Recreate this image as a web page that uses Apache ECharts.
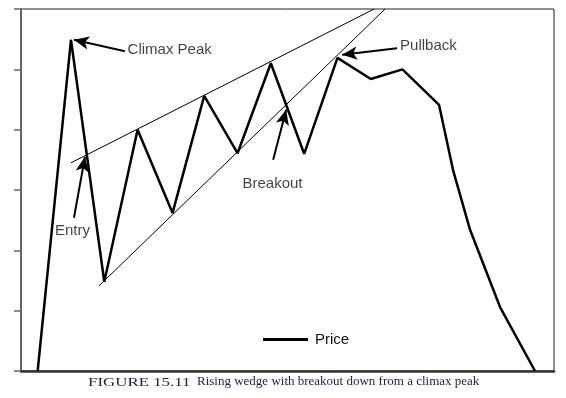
<!DOCTYPE html>
<html><head><meta charset="utf-8">
<script src="https://cdn.jsdelivr.net/npm/echarts@6/dist/echarts.min.js"></script>
<style>html,body{margin:0;padding:0;background:#fff}#c{width:566px;height:398px}</style>
</head><body><div id="c"></div>
<script>
// Price path (x in time units, y in price units)
const priceX = [0.5, 1.5, 2.5, 3.5, 4.55, 5.5, 6.5, 7.5, 8.5, 9.5, 10.5, 11.45, 12.55, 12.97, 13.48, 14.38, 15.43];
const priceY = [0, 5.49, 1.48, 4.0, 2.62, 4.56, 3.61, 5.1, 3.6, 5.19, 4.84, 5.0, 4.41, 3.33, 2.34, 1.06, 0];
// Wedge trendlines
const upperLineX = [1.5, 10.6];
const upperLineY = [3.45, 6];
const lowerLineX = [2.34, 10.93];
const lowerLineY = [1.41, 6];
// Annotations: text, label anchor, arrow tail, arrow head
const annoText = ['Climax Peak', 'Entry', 'Breakout', 'Pullback'];
const annoLabelX = [3.2, 1.02, 7.55, 11.38];
const annoLabelY = [5.32, 2.32, 3.1, 5.39];
const arrowFromX = [3.12, 1.59, 7.57, 11.29];
const arrowFromY = [5.30, 2.54, 3.50, 5.35];
const arrowToX = [1.59, 1.92, 7.96, 9.64];
const arrowToY = [5.49, 3.55, 4.33, 5.24];
const seriesName = 'Price';
const captionLabel = 'FIGURE 15.11';
const captionText = 'Rising wedge with breakout down from a climax peak';

const zip = (a, b) => a.map((v, i) => [v, b[i]]);
const chart = echarts.init(document.getElementById('c'));
const labelAlign = ['left', 'left', 'center', 'left'];
const option = {
  animation: false,
  grid: { left: 21, right: 12, top: 9, bottom: 27, show: true, borderColor: '#222', borderWidth: 1 },
  xAxis: { type: 'value', min: 0, max: 16, axisLine: { show: true, onZero: false, lineStyle: { color: '#333', width: 2.5 } },
    axisTick: { show: false }, axisLabel: { show: false }, splitLine: { show: false } },
  yAxis: { type: 'value', min: 0, max: 6, interval: 1, axisLine: { show: true, lineStyle: { color: '#666', width: 2 } },
    axisTick: { show: true, length: 7, lineStyle: { color: '#666', width: 1.5 } }, axisLabel: { show: false }, splitLine: { show: false } },
  legend: { data: [{ name: seriesName, icon: 'rect' }], left: 258, top: 327, itemWidth: 45, itemHeight: 3, itemGap: 6,
    itemStyle: { color: '#000' },
    textStyle: { fontFamily: 'Liberation Sans', fontSize: 15, color: '#111', padding: [0, 0, 0, 2] } },
  series: [
    { name: seriesName, type: 'line', data: zip(priceX, priceY), symbol: 'none', lineStyle: { color: '#000', width: 2.5 }, itemStyle: { color: '#000' },
      markLine: { silent: true, symbol: ['none', 'arrow'], symbolSize: [10, 15], label: { show: false },
        lineStyle: { color: '#000', width: 2, type: 'solid' }, emphasis: { disabled: true },
        data: arrowFromX.map((x, i) => [{ coord: [x, arrowFromY[i]] }, { coord: [arrowToX[i], arrowToY[i]] }]) } },
    { type: 'line', data: zip(upperLineX, upperLineY), symbol: 'none', lineStyle: { color: '#000', width: 1 }, silent: true },
    { type: 'line', data: zip(lowerLineX, lowerLineY), symbol: 'none', lineStyle: { color: '#000', width: 1 }, silent: true },
    { type: 'scatter', symbolSize: 0, silent: true,
      data: annoText.map((t, i) => ({ value: [annoLabelX[i], annoLabelY[i]],
        label: { show: true, formatter: t, position: 'inside', align: labelAlign[i], verticalAlign: 'middle',
          fontFamily: 'Liberation Sans', fontSize: 15, color: '#111' } })) }
  ],
  graphic: [
    { type: 'text', x: 88, y: 375, scaleX: 1.25, style: { text: captionLabel, font: '13.5px "Liberation Serif"', fill: '#1d1d4f' } },
    { type: 'text', x: 197, y: 375, style: { text: captionText, font: '13px "Liberation Serif"', fill: '#1d1d4f' } }
  ]
};
chart.setOption(option);
</script></body></html>
